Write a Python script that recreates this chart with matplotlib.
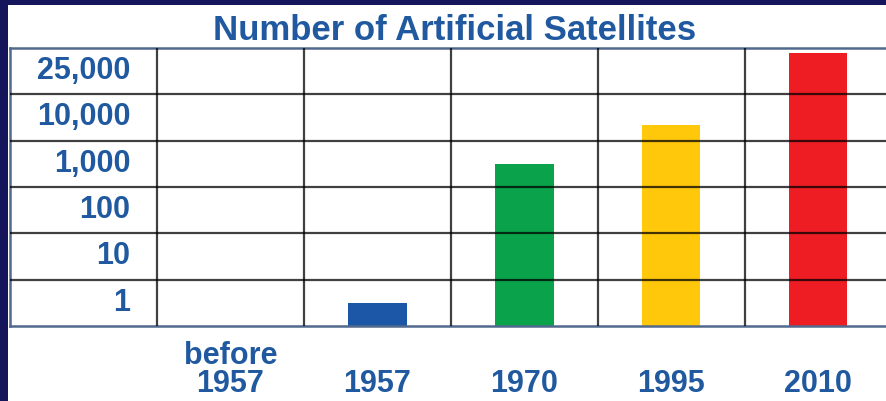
import numpy as np
import matplotlib.pyplot as plt
from matplotlib.patches import Rectangle

years = ["before\n1957", "1957", "1970", "1995", "2010"]
satellites = [0, 1, 1000, 7000, 36000]
tick_values = [1, 10, 100, 1000, 10000, 25000]
tick_labels = ["1", "10", "100", "1,000", "10,000", "25,000"]
bar_colors = ["#1b57a6", "#1b57a6", "#0aa34b", "#ffc80b", "#ee1d24"]

navy = "#15155b"
text_blue = "#20599f"

# every labelled value gets its own row of equal height
row_log = np.log10(tick_values)
node_pos = np.concatenate(([0], np.arange(len(tick_values)) + 0.5, [len(tick_values)]))
node_log = np.concatenate(([row_log[0] - 0.5], row_log,
                           [row_log[-1] + 0.5 * (row_log[-1] - row_log[-2])]))


def forward(v):
    return np.interp(np.log10(np.clip(v, 1e-6, None)), node_log, node_pos)


def inverse(p):
    return 10 ** np.interp(p, node_pos, node_log)


fig = plt.figure(figsize=(8.87, 4.01), dpi=100, facecolor=navy)
fig.patches.append(Rectangle((8 / 887, 0), 1, 1 - 5 / 401, transform=fig.transFigure,
                             facecolor="white", edgecolor="none", zorder=-1))

ax = fig.add_axes([10 / 887, 75 / 401, 877 / 887, 278 / 401])
ax.set_yscale("function", functions=(forward, inverse))
ymin, ymax = inverse(0), inverse(len(tick_values))
ax.set_ylim(ymin, ymax)
ax.set_xlim(-1.5, 4.47)

x = np.arange(len(years))
heights = np.clip(np.array(satellites, dtype=float) - ymin, 0, None)
ax.bar(x, heights, bottom=ymin, width=0.4, color=bar_colors)

# table lines
ax.set_xticks(np.arange(-0.5, len(years) - 1, 1), minor=True)
ax.set_yticks(inverse(np.arange(1, len(tick_values))), minor=True)
ax.set_xticks([])
ax.set_yticks([])
ax.tick_params(which="both", length=0, labelleft=False, labelbottom=False)
ax.grid(which="minor", color="black", alpha=0.75, linewidth=1.6)
ax.set_axisbelow(False)
for side in ["left", "top", "bottom"]:
    ax.spines[side].set_color("#52698e")
    ax.spines[side].set_linewidth(1.8)
ax.spines["right"].set_visible(False)

for v, lab in zip(tick_values, tick_labels):
    ax.text(-0.68, v, lab, ha="right", va="center", fontsize=22,
            fontweight="bold", color=text_blue, family="Liberation Sans")

for xi, lab in zip(x, years):
    ax.text(xi, -0.238, lab, transform=ax.get_xaxis_transform(), ha="center",
            va="baseline", fontsize=22, fontweight="bold", color=text_blue,
            family="Liberation Sans", linespacing=0.92)

fig.text(455 / 887, 1 - 31 / 401, "Number of Artificial Satellites", ha="center",
         va="center", fontsize=25, fontweight="bold", color=text_blue,
         family="Liberation Sans")

fig.savefig("out.png", dpi=100, facecolor=navy)
